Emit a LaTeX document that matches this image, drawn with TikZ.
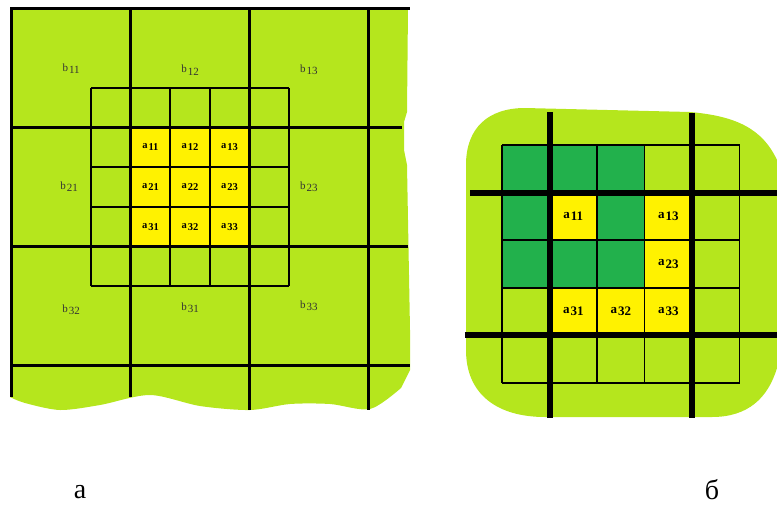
\documentclass[tikz,border=0pt]{standalone}
\usepackage{fontspec}
\setmainfont{Liberation Serif}
\usetikzlibrary{positioning}

\definecolor{fieldgreen}{HTML}{B5E61D}
\definecolor{darkcell}{HTML}{22B14C}
\definecolor{cellyellow}{HTML}{FFF200}
\newcommand{\idx}[2]{#1\kern1pt\raisebox{-0.4ex}{#2}}

\begin{document}
\begin{tikzpicture}[x=1pt,y=-1pt,
  thickline/.style={line width=3pt},
  thinline/.style={line width=1.8pt},
  heavyline/.style={line width=6pt},
  blabel/.style={font=\fontsize{11}{11}\selectfont, text=black!80},
  alabel/.style={font=\fontsize{10.5}{11}\selectfont\bfseries},
  arlabel/.style={font=\fontsize{13}{13}\selectfont\bfseries},
  caption/.style={font=\fontsize{28}{30}\selectfont}]
\useasboundingbox (0,0) rectangle (777,512);

% panel a: green field
\fill[fieldgreen] (10,8) -- (408,8) -- (407,112) -- (404,122) -- (404,150) -- (407,165)
  -- (410,330) -- (410,370)
  -- plot[smooth] coordinates {(401,388) (370,409) (330,404) (290,404) (250,410) (200,406)
     (150,395) (100,405) (60,410) (25,403) (10,397)} -- cycle;

\begin{scope}[shift={(91,88)},x=39.6pt,y=-39.6pt]
\fill[cellyellow] (1,1) rectangle (4,4);
\foreach \i in {0,...,5} {
  \draw[thinline] (\i,0) -- (\i,5);
  \draw[thinline] (0,\i) -- (5,\i);
}
% big cells
\foreach \y/\e in {-2/8.05, 1/7.85, 4/8, 7/8.05}
  \draw[thickline] (-2.04,\y) -- (\e,\y);
\foreach \x/\e in {-2/7.8, 1/7.8, 4/8.13, 7/8.13}
  \draw[thickline] (\x,-2.04) -- (\x,\e);
\node[blabel] (b11) at (-0.5,-0.5) {\idx{b}{11}};
\node[blabel] (b12) at (2.5,-0.45) {\idx{b}{12}};
\node[blabel] (b13) at (5.5,-0.45) {\idx{b}{13}};
\node[blabel] (b21) at (-0.55,2.5) {\idx{b}{21}};
\node[blabel] (b23) at (5.5,2.5) {\idx{b}{23}};
\node[blabel] (b32) at (-0.5,5.6) {\idx{b}{32}};
\node[blabel] (b31) at (2.5,5.55) {\idx{b}{31}};
\node[blabel] (b33) at (5.5,5.5) {\idx{b}{33}};
\foreach \r in {1,2,3}
  \foreach \c in {1,2,3}
    \node[alabel] (a\r\c) at (\c+0.5,\r+0.5) {\idx{a}{\r\c}};
\end{scope}

% panel b: green field
\fill[fieldgreen] (777,160) -- (777,368) .. controls (768,398) and (748,417) .. (712,417)
  -- (545,417) .. controls (498,417) and (466,395) .. (466,350) -- (466,165)
  .. controls (466,128) and (488,108) .. (525,108) -- (690,112)
  .. controls (735,116) and (762,128) .. (777,160) -- cycle;

\begin{scope}[shift={(502,145)},x=47.5pt,y=-47.6pt]
\fill[darkcell] (0,0) rectangle (3,1);
\fill[darkcell] (0,1) rectangle (1,2);
\fill[darkcell] (2,1) rectangle (3,2);
\fill[darkcell] (0,2) rectangle (3,3);
\fill[cellyellow] (1,1) rectangle (2,2);
\fill[cellyellow] (3,1) rectangle (4,3);
\fill[cellyellow] (1,3) rectangle (4,4);
\foreach \i in {0,...,5} {
  \draw[thinline] (\i,0) -- (\i,5);
  \draw[thinline] (0,\i) -- (5,\i);
}
\draw[heavyline] (1,-0.69) -- (1,5.74);
\draw[heavyline] (4,-0.67) -- (4,5.74);
\draw[heavyline] (-0.67,1) -- (5.8,1);
\draw[heavyline] (-0.78,4) -- (5.8,4);
\node[arlabel] (r11) at (1.5,1.5) {\idx{a}{11}};
\node[arlabel] (r13) at (3.5,1.5) {\idx{a}{13}};
\node[arlabel] (r23) at (3.5,2.5) {\idx{a}{23}};
\node[arlabel] (r31) at (1.5,3.5) {\idx{a}{31}};
\node[arlabel] (r32) at (2.5,3.5) {\idx{a}{32}};
\node[arlabel] (r33) at (3.5,3.5) {\idx{a}{33}};
\end{scope}

\node[caption] (capa) at (80,492) {а};
\node[caption] (capb) at (712,490) {б};
\end{tikzpicture}
\end{document}
